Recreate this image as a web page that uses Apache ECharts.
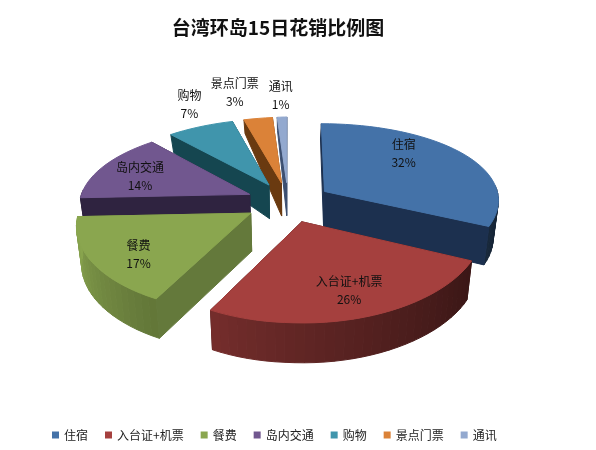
<!DOCTYPE html>
<html><head><meta charset="utf-8">
<style>html,body{margin:0;padding:0;background:#fff}#c{width:596px;height:450px}</style>
<script src="https://cdn.jsdelivr.net/npm/echarts@6/dist/echarts.min.js"></script>
</head><body><div id="c"></div>
<script>
const categories = ['住宿','入台证+机票','餐费','岛内交通','购物','景点门票','通讯'];
const values = [32,26,17,14,7,3,1];
const titleText = '台湾环岛15日花销比例图';
const topColors = ['#4472a8','#a5403e','#8aa64f','#71578f','#4095ac','#db8238','#93a9cf'];
const wallColors = ['#1c304f','#481e1d','#64793b','#2f2340','#154650','#6a3a10','#3c4f70'];
const drawOrder = [5,7,6,4,3,2,1];
const labelRadius = [0.727,0.756,0.767,0.707,1.36,1.478,1.40];
const labelTurn = [-15,-0.5,-6.8,-5.9,3.4,-3.6,0.1];

const CX=288, CY=202, SX_R=175, SX_L=171, SY=80.3, K=0.144, KX=0.096, EXPLODE=0.25, SHEAR=0.02;
const total = values.reduce((a,b)=>a+b,0);
const rad = d => d*Math.PI/180;
function project(X,Y,shear){
  const x=(X<0?SX_L:SX_R)*X/(1+KX*Y);
  return [CX+x, CY-SY*Y/(1+K*Y)+(x<0?-shear*x:0)];
}
function depth(Y){return Y>0?Math.max(10,38-20*Y):38-1.5*Y;}
function mix(hex,f){
  const n=parseInt(hex.slice(1),16);
  const c=[n>>16&255,n>>8&255,n&255].map(v=>Math.round(v*f));
  return 'rgb('+c.join(',')+')';
}
function arcShade(a){
  const d=((a%360)+360)%360;
  if(d<90||d>270) return 0.35;
  return 0.3+0.7*Math.pow((d-90)/180,1.3);
}
function renderSlice(i, api){
  const v=api.value(0);
  let before=0; for(let j=0;j<i;j++) before+=values[j];
  const a0=before/total*360, a1=(before+v)/total*360, mid=(a0+a1)/2;
  const ox=EXPLODE*Math.sin(rad(mid)), oy=EXPLODE*Math.cos(rad(mid));
  const at=(r,a)=>[ox+r*Math.sin(rad(a)),oy+r*Math.cos(rad(a))];
  const P=(r,a)=>{const c=at(r,a),p=project(c[0],c[1],SHEAR);
    return {top:p,bot:[p[0]-(p[0]-CX)*0.025,p[1]+depth(c[1])]};};
  const steps=Math.max(4,Math.ceil((a1-a0)/3));
  const pts=[];for(let s=0;s<=steps;s++)pts.push(a0+(a1-a0)*s/steps);
  const apex=P(0,0), kids=[];
  const poly=(points,fill)=>kids.push({type:'polygon',shape:{points},silent:true,
    style:{fill,stroke:fill,lineWidth:1}});
  const s0=P(1,a0), s1=P(1,a1);
  const wall0=()=>poly([apex.top,s0.top,s0.bot,apex.bot],wallColors[i]);
  const wall1=()=>poly([apex.top,s1.top,s1.bot,apex.bot],wallColors[i]);
  const front0=Math.cos(rad(a0-90))<0, front1=Math.cos(rad(a1+90))<0;
  if(!front0) wall0();
  if(!front1) wall1();
  for(let s=0;s<steps;s++){
    const m=(pts[s]+pts[s+1])/2;
    if(Math.cos(rad(m))>0.1) continue;
    const p=P(1,pts[s]),q=P(1,pts[s+1]);
    poly([p.top,q.top,q.bot,p.bot],mix(topColors[i],arcShade(m)));
  }
  if(front0) wall0();
  if(front1) wall1();
  const face=[apex.top];pts.forEach(a=>face.push(P(1,a).top));
  poly(face,topColors[i]);
  const lc=at(labelRadius[i],mid+labelTurn[i]), lp=project(lc[0],lc[1],0);
  kids.push({type:'text',silent:true,style:{x:lp[0],y:lp[1],text:categories[i]+'\n'+v+'%',
    align:'center',verticalAlign:'middle',fill:'#111',lineHeight:18,
    font:'12px "Noto Sans CJK SC"'}});
  return {type:'group',children:kids};
}
const chart=echarts.init(document.getElementById('c'),null,{renderer:'canvas'});
chart.setOption({
  animation:false,
  backgroundColor:'#fff',
  color:topColors,
  title:{text:titleText,left:273,top:13,textAlign:'center',
    textStyle:{fontFamily:'"Noto Sans CJK SC"',fontSize:19,fontWeight:'bold',color:'#111'}},
  legend:{data:categories,left:47,top:424,icon:'rect',itemWidth:7,itemHeight:7,itemGap:17,
    selectedMode:false,textStyle:{fontFamily:'"Noto Sans CJK SC"',fontSize:12,color:'#222'}},
  series:categories.map((name,i)=>({
    type:'custom',name,coordinateSystem:'none',z:drawOrder[i],
    itemStyle:{color:topColors[i]},
    data:[[values[i]]],
    renderItem:(p,api)=>renderSlice(i,api)
  }))
});
</script></body></html>
